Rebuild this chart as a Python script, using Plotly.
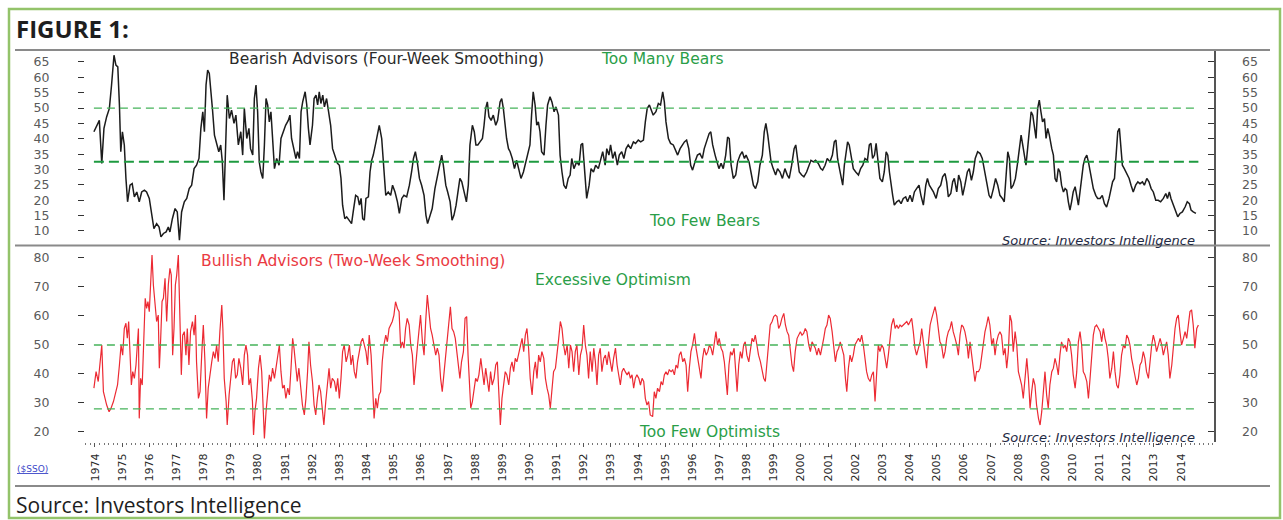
import plotly.graph_objects as go

# ---------------- data ----------------
bear_year = [
1973.96,1974.06,1974.16,1974.25,1974.33,1974.43,1974.53,1974.61,1974.70,1974.77,1974.84,1974.90,1974.95,
1975.01,1975.08,1975.14,1975.20,1975.29,1975.37,1975.45,1975.54,1975.63,1975.72,1975.82,1975.90,
1976.00,1976.09,1976.17,1976.27,1976.36,1976.43,1976.52,1976.62,1976.70,1976.76,1976.85,1976.95,
1977.03,1977.11,1977.19,1977.29,1977.38,1977.47,1977.56,1977.65,1977.74,1977.83,1977.90,1977.97,
1978.03,1978.09,1978.15,1978.21,1978.27,1978.33,1978.40,1978.48,1978.56,1978.63,1978.69,1978.75,1978.81,1978.87,1978.95,
1979.03,1979.12,1979.19,1979.28,1979.37,1979.44,1979.50,1979.59,1979.67,1979.73,1979.81,1979.87,1979.93,1979.99,
1980.05,1980.11,1980.18,1980.24,1980.30,1980.36,1980.42,1980.48,1980.54,1980.61,1980.69,1980.78,1980.85,1980.94,
1981.02,1981.12,1981.18,1981.24,1981.33,1981.40,1981.46,1981.53,1981.59,1981.65,1981.74,1981.80,1981.86,1981.92,
1982.01,1982.07,1982.14,1982.20,1982.26,1982.32,1982.39,1982.45,1982.53,1982.61,1982.68,1982.75,1982.84,1982.93,
1983.00,1983.06,1983.12,1983.20,1983.27,1983.36,1983.45,1983.51,1983.60,1983.68,1983.74,1983.80,1983.86,1983.92,1983.98,
1984.07,1984.13,1984.19,1984.25,1984.35,1984.47,1984.56,1984.64,1984.71,1984.80,1984.89,1984.96,
1985.05,1985.14,1985.21,1985.30,1985.38,1985.48,1985.58,1985.66,1985.73,1985.80,1985.87,1985.95,
1986.03,1986.12,1986.19,1986.25,1986.34,1986.42,1986.52,1986.62,1986.71,1986.77,1986.83,1986.92,1986.99,
1987.08,1987.15,1987.22,1987.30,1987.36,1987.44,1987.51,1987.59,1987.68,1987.75,1987.81,1987.90,1987.97,
1988.03,1988.10,1988.18,1988.27,1988.33,1988.39,1988.45,1988.51,1988.59,1988.67,1988.76,1988.83,1988.92,1988.98,
1989.04,1989.10,1989.16,1989.23,1989.29,1989.37,1989.45,1989.53,1989.62,1989.69,1989.78,1989.86,1989.94,
1990.02,1990.08,1990.14,1990.21,1990.27,1990.33,1990.39,1990.45,1990.54,1990.61,1990.67,1990.76,1990.83,1990.91,1990.98,
1991.07,1991.13,1991.20,1991.27,1991.35,1991.43,1991.50,1991.56,1991.64,1991.74,1991.83,1991.90,1991.96,
1992.05,1992.11,1992.20,1992.27,1992.36,1992.44,1992.54,1992.63,1992.70,1992.79,1992.85,1992.93,1992.99,
1993.07,1993.15,1993.24,1993.31,1993.40,1993.48,1993.56,1993.64,1993.73,1993.83,1993.91,
1994.01,1994.10,1994.20,1994.27,1994.34,1994.42,1994.56,1994.66,1994.75,1994.83,1994.91,1994.97,
1995.03,1995.12,1995.20,1995.30,1995.39,1995.46,1995.55,1995.63,1995.71,1995.79,1995.87,1995.94,
1996.01,1996.10,1996.19,1996.28,1996.37,1996.44,1996.53,1996.62,1996.68,1996.75,1996.84,1996.90,1996.98,
1997.06,1997.14,1997.23,1997.30,1997.36,1997.43,1997.51,1997.60,1997.67,1997.76,1997.84,1997.92,1997.98,
1998.09,1998.16,1998.25,1998.33,1998.41,1998.49,1998.58,1998.65,1998.71,1998.78,1998.84,1998.90,1998.98,
1999.07,1999.14,1999.23,1999.32,1999.41,1999.50,1999.57,1999.66,1999.75,1999.81,1999.87,1999.94,
2000.03,2000.11,2000.21,2000.30,2000.37,2000.46,2000.54,2000.64,2000.73,2000.80,2000.89,2000.97,
2001.07,2001.16,2001.23,2001.29,2001.35,2001.42,2001.48,2001.54,2001.60,2001.66,2001.72,2001.78,2001.85,2001.93,
2002.02,2002.12,2002.20,2002.28,2002.36,2002.45,2002.52,2002.58,2002.64,2002.71,2002.77,2002.83,2002.91,
2003.00,2003.07,2003.14,2003.20,2003.26,2003.32,2003.38,2003.44,2003.53,2003.61,2003.69,2003.77,2003.86,2003.93,
2004.02,2004.10,2004.18,2004.26,2004.35,2004.42,2004.51,2004.60,2004.66,2004.73,2004.88,2004.98,
2005.06,2005.15,2005.22,2005.31,2005.37,2005.43,2005.52,2005.59,2005.65,2005.74,2005.81,2005.89,2005.96,
2006.04,2006.13,2006.20,2006.28,2006.35,2006.42,2006.51,2006.60,2006.68,2006.76,2006.84,2006.93,
2007.00,2007.09,2007.17,2007.25,2007.33,2007.42,2007.49,2007.55,2007.62,2007.68,2007.74,2007.82,2007.90,2007.97,
2008.05,2008.11,2008.17,2008.23,2008.29,2008.35,2008.41,2008.48,2008.54,2008.60,2008.66,2008.72,2008.78,2008.84,2008.90,2008.97,
2009.03,2009.09,2009.15,2009.24,2009.30,2009.36,2009.42,2009.48,2009.54,2009.60,2009.67,2009.73,2009.79,2009.85,2009.91,2009.97,
2010.03,2010.10,2010.16,2010.22,2010.28,2010.34,2010.40,2010.46,2010.53,2010.59,2010.65,2010.71,2010.77,2010.86,2010.93,
2011.02,2011.10,2011.18,2011.26,2011.35,2011.42,2011.48,2011.55,2011.61,2011.67,2011.73,2011.78,2011.84,2011.91,
2012.00,2012.09,2012.16,2012.24,2012.33,2012.41,2012.49,2012.58,2012.65,2012.74,2012.82,2012.90,2012.98,
2013.07,2013.16,2013.25,2013.35,2013.44,2013.50,2013.57,2013.63,2013.72,2013.80,2013.88,2013.96,
2014.05,2014.15,2014.23,2014.31,2014.37,2014.45,2014.55,
]
bear_pct = [
42.3,44.4,46,32,43.4,47.2,49.9,57.5,67.2,64,63.4,51,35.8,
42.3,38,27.1,19.5,24.9,25.4,21.1,22.7,19.5,22.7,23.3,22.7,
20.6,15.1,10.8,12.4,11.3,8.1,9.2,9.7,11.3,9.7,14,17.3,
16.2,7,16.2,19.5,20.6,23.8,24.9,30.3,31.4,33.6,43.4,48.8,
42.3,57.5,62.4,61.3,56.4,49.3,41.2,38,35.8,38,32.5,20,34.7,54.2,46.6,
49.3,45,47.7,38,42.3,34.7,49.9,40.1,43.4,36.8,34.7,53.1,57.5,48.8,
32.5,29.2,27.1,38,53.1,51,45.5,48.8,38,30.3,33.6,31.4,40.1,42.3,
44.4,46,47.7,40.1,35.8,33.6,35.8,33.6,48.8,52,55.3,51,43.4,38,
44.4,53.1,54.2,51,55.3,51.5,54.2,50.4,53.1,48.8,44.4,36.8,34.7,32,
31.4,27.1,18.4,14,14.6,13.5,12.4,16.2,21.6,21.1,18.4,20.6,14,13.5,20.6,
21.1,29.2,33,34.7,39,44.4,40.1,31.4,21.6,22.7,21.6,24.9,
22.7,19.5,15.7,20.6,21.6,21.1,24.9,29.2,33.6,35.8,32.5,27.1,
24.9,21.6,15.1,12.4,15.1,17.3,23.8,28.2,31.4,34.7,31.4,24.9,22.7,
19.5,13.5,15.1,18.4,22.7,27.1,26,22.7,19.5,24.9,38,44.4,42.3,
38,38,39,40.1,44.4,49.9,52,47.2,46,47.7,44.4,46,52,53.1,
49.9,44.4,40.1,36.8,35.8,33.6,30.3,33,29.2,27.1,29.2,32.5,34.7,
38,47.7,55.3,51,44.4,45.5,42.3,35.8,34.7,44.4,51,53.7,52,48.8,50.4,
47.7,34.7,29.2,24.9,23.8,27.1,28.2,33.6,30.3,32.5,31.4,38,38.5,
27.1,20.6,24.9,30.3,29.2,31.4,30.3,33.6,35.8,31.4,36.8,34.7,38,
33.6,35.8,31.4,34.7,35.8,33.6,36.8,38,36.8,39,38.5,
39.6,39,39.6,45.5,49.9,51,47.7,48.8,51.5,51,55.3,52,
45.5,40.1,38.5,38,35.8,34.7,36.8,38,39,39.6,36.8,31.4,
29.8,32.5,34.7,35.2,33.6,36.8,39,41.7,42.3,38,34.7,32.5,30.3,
32,30.3,34.7,40.6,40.1,31.4,27.1,28.2,32.5,34.7,35.8,33.6,34.7,
32.5,29.2,24.9,23.8,26,31.4,34.7,42.3,45,41.2,36.8,32.5,30.3,
28.2,30.3,29.2,27.1,30.3,28.2,27.1,31.4,36.8,38,33.6,29.2,
28.2,27.6,29.2,31.4,33,32.5,33,32,30.3,29.8,31.4,33.6,
32.5,34.7,39,39.6,33.6,30.3,27.1,24.9,31.4,34.7,39,38,33.6,30.3,
29.2,28.2,30.3,31.4,33.6,33,38,38.5,33.6,34.7,38.5,33.6,27.1,
26,29.2,35.8,34.7,29.2,24.9,21.6,18.4,19.5,20,18.9,20.6,21.1,19.5,
21.6,19.5,22.7,23.8,24.9,21.6,18.4,24.9,27.1,24.9,22.7,20.6,
23.8,24.9,27.6,28.7,26,21.1,22.2,26,27.1,22.7,28.2,26,21.6,
24.9,29.2,30.3,26.5,29.2,33.6,35.8,35.2,33.6,30.3,26,21.6,
20.6,23.8,27.1,24.9,21.6,20.6,19.5,27.1,35.8,33.6,23.8,24.9,27.1,31.4,
38,41.2,38,34.7,31.4,36.8,43.4,48.8,47.7,44.4,40.1,49.9,52.6,48.8,45.5,46.6,
40.1,43.4,41.2,36.8,34.7,27.1,26,30.3,29.2,24.9,22.7,23.8,23.3,19.5,16.8,19.5,
22.7,24.4,20.6,18.4,22.7,27.1,31.4,33.6,34.7,32.5,29.2,26,23.8,21.6,20.6,
20.6,21.6,18.9,17.8,20.6,23.8,26,27.1,36.8,42.3,43.4,38,31.4,30.3,
28.7,27.1,24.9,22.7,24.9,26,25.4,26,24.9,27.1,26,23.8,22.7,
20,20,19.5,20.6,22.2,20.6,22.7,20.6,18.4,16.2,14.6,15.7,
16.2,17.8,19.5,18.9,16.8,16.2,15.7,
]

bull_year = [
1973.96,1974.04,1974.12,1974.18,1974.25,1974.31,1974.37,1974.43,1974.52,1974.59,1974.68,1974.76,1974.83,1974.90,1974.96,
1975.02,1975.08,1975.14,1975.19,1975.24,1975.29,1975.34,1975.39,1975.45,1975.51,1975.56,1975.60,1975.63,1975.68,1975.74,1975.80,1975.85,1975.90,1975.95,
1976.00,1976.06,1976.10,1976.15,1976.21,1976.27,1976.33,1976.37,1976.42,1976.47,1976.52,1976.58,1976.64,1976.70,1976.76,1976.81,1976.86,1976.91,1976.96,
1977.01,1977.07,1977.13,1977.18,1977.23,1977.29,1977.35,1977.40,1977.46,1977.52,1977.59,1977.65,1977.70,1977.74,1977.81,1977.87,1977.93,1977.99,
1978.05,1978.11,1978.17,1978.24,1978.30,1978.36,1978.42,1978.48,1978.54,1978.60,1978.67,1978.71,1978.76,1978.83,1978.87,1978.94,
1979.00,1979.06,1979.12,1979.18,1979.24,1979.30,1979.37,1979.44,1979.50,1979.56,1979.62,1979.67,1979.73,1979.80,1979.84,1979.89,1979.95,
1980.02,1980.08,1980.14,1980.20,1980.24,1980.30,1980.36,1980.42,1980.48,1980.54,1980.61,1980.67,1980.73,1980.79,1980.85,1980.91,1980.97,
1981.03,1981.10,1981.16,1981.22,1981.28,1981.33,1981.39,1981.45,1981.51,1981.58,1981.64,1981.71,1981.77,1981.83,1981.88,1981.94,
1982.01,1982.07,1982.13,1982.19,1982.25,1982.31,1982.37,1982.43,1982.50,1982.56,1982.62,1982.68,1982.74,1982.82,1982.88,1982.94,
1983.00,1983.06,1983.12,1983.18,1983.25,1983.31,1983.37,1983.43,1983.49,1983.55,1983.61,1983.67,1983.74,1983.80,1983.86,1983.92,1983.98,
1984.04,1984.10,1984.17,1984.23,1984.28,1984.34,1984.40,1984.46,1984.52,1984.58,1984.64,1984.71,1984.77,1984.83,1984.89,1984.95,
1985.01,1985.07,1985.14,1985.20,1985.26,1985.32,1985.38,1985.44,1985.50,1985.57,1985.63,1985.69,1985.75,1985.81,1985.87,1985.93,1985.99,
1986.06,1986.12,1986.18,1986.24,1986.30,1986.36,1986.42,1986.49,1986.55,1986.61,1986.67,1986.73,1986.79,1986.86,1986.92,1986.98,
1987.04,1987.09,1987.15,1987.21,1987.27,1987.33,1987.40,1987.44,1987.50,1987.57,1987.63,1987.69,1987.74,1987.79,1987.84,1987.90,1987.96,
1988.02,1988.08,1988.14,1988.21,1988.27,1988.33,1988.39,1988.45,1988.51,1988.57,1988.63,1988.70,1988.76,1988.82,1988.88,1988.93,1988.99,
1989.05,1989.11,1989.17,1989.24,1989.30,1989.36,1989.42,1989.48,1989.54,1989.61,1989.67,1989.73,1989.79,1989.85,1989.91,1989.97,
1990.03,1990.10,1990.16,1990.22,1990.28,1990.34,1990.40,1990.46,1990.53,1990.59,1990.65,1990.71,1990.77,1990.83,1990.89,1990.96,
1991.02,1991.08,1991.14,1991.20,1991.26,1991.32,1991.39,1991.45,1991.51,1991.57,1991.63,1991.69,1991.75,1991.82,1991.88,1991.94,
1992.00,1992.06,1992.12,1992.18,1992.24,1992.31,1992.37,1992.43,1992.49,1992.55,1992.61,1992.67,1992.74,1992.80,1992.86,1992.92,1992.98,
1993.04,1993.10,1993.17,1993.23,1993.29,1993.35,1993.41,1993.47,1993.53,1993.60,1993.66,1993.72,1993.78,1993.84,1993.90,1993.96,
1994.03,1994.09,1994.15,1994.21,1994.27,1994.33,1994.39,1994.45,1994.54,1994.60,1994.66,1994.72,1994.79,1994.85,1994.91,1994.97,
1995.03,1995.09,1995.15,1995.22,1995.28,1995.34,1995.40,1995.46,1995.52,1995.58,1995.65,1995.71,1995.77,1995.83,1995.89,1995.95,
1996.01,1996.08,1996.14,1996.20,1996.26,1996.32,1996.38,1996.44,1996.51,1996.57,1996.63,1996.69,1996.75,1996.81,1996.87,1996.93,1996.99,
1997.06,1997.12,1997.18,1997.24,1997.29,1997.35,1997.41,1997.47,1997.54,1997.60,1997.65,1997.71,1997.77,1997.83,1997.89,1997.95,
1998.01,1998.08,1998.14,1998.20,1998.26,1998.32,1998.38,1998.44,1998.51,1998.57,1998.63,1998.69,1998.75,1998.81,1998.87,1998.94,
1999.00,1999.06,1999.12,1999.18,1999.24,1999.30,1999.37,1999.43,1999.49,1999.55,1999.61,1999.67,1999.73,1999.79,1999.86,1999.92,1999.98,
2000.04,2000.10,2000.16,2000.22,2000.29,2000.35,2000.41,2000.47,2000.53,2000.59,2000.65,2000.72,2000.78,2000.84,2000.90,2000.96,
2001.02,2001.08,2001.15,2001.21,2001.27,2001.33,2001.39,2001.45,2001.51,2001.58,2001.64,2001.69,2001.75,2001.81,2001.87,2001.93,2001.99,
2002.05,2002.12,2002.18,2002.24,2002.30,2002.36,2002.42,2002.48,2002.55,2002.61,2002.67,2002.73,2002.79,2002.85,2002.91,2002.98,
2003.04,2003.10,2003.16,2003.22,2003.28,2003.34,2003.41,2003.47,2003.53,2003.59,2003.65,2003.71,2003.77,2003.83,2003.90,2003.96,
2004.02,2004.08,2004.14,2004.20,2004.26,2004.33,2004.39,2004.45,2004.51,2004.57,2004.63,2004.69,2004.76,2004.82,2004.88,2004.94,
2005.00,2005.06,2005.12,2005.18,2005.25,2005.31,2005.37,2005.43,2005.49,2005.55,2005.61,2005.68,2005.74,2005.80,2005.86,2005.92,2005.98,
2006.04,2006.11,2006.17,2006.23,2006.29,2006.35,2006.41,2006.47,2006.54,2006.60,2006.66,2006.72,2006.78,2006.84,2006.90,2006.96,
2007.03,2007.09,2007.15,2007.21,2007.27,2007.33,2007.39,2007.46,2007.52,2007.58,2007.64,2007.70,2007.76,2007.82,2007.89,2007.95,
2008.01,2008.07,2008.13,2008.19,2008.25,2008.32,2008.38,2008.44,2008.50,2008.56,2008.62,2008.68,2008.75,2008.81,2008.87,2008.93,2008.99,
2009.05,2009.11,2009.17,2009.24,2009.30,2009.36,2009.42,2009.48,2009.54,2009.60,2009.67,2009.73,2009.79,2009.85,2009.91,2009.97,
2010.03,2010.10,2010.16,2010.22,2010.28,2010.34,2010.40,2010.46,2010.53,2010.59,2010.65,2010.71,2010.77,2010.83,2010.89,2010.96,
2011.02,2011.08,2011.14,2011.20,2011.26,2011.32,2011.38,2011.45,2011.51,2011.57,2011.63,2011.69,2011.75,2011.81,2011.88,2011.94,
2012.00,2012.06,2012.12,2012.18,2012.24,2012.30,2012.37,2012.43,2012.49,2012.55,2012.61,2012.67,2012.73,2012.80,2012.86,2012.92,2012.98,
2013.04,2013.10,2013.16,2013.23,2013.29,2013.35,2013.41,2013.47,2013.53,2013.59,2013.66,2013.72,2013.78,2013.84,2013.90,2013.96,
2014.02,2014.09,2014.15,2014.21,2014.27,2014.33,2014.39,2014.45,2014.51,2014.58,2014.64,
]
bull_pct = [
35.1,40.8,37.4,43.1,50,33.9,31.6,29.3,27,28.2,30.5,33.9,36.2,43.1,50,
46.5,55.7,57.5,52.3,58.1,46.5,36.2,40.8,38.5,43.1,52.3,55.7,24.7,38.5,36.2,50,66.1,62.6,65,
61.5,73,81,70.7,65,58.1,60.3,42,52.3,65,66.1,73,58.1,70.7,76.4,74.1,46.5,55.7,70.7,
74.1,81,62.6,39.7,53.4,54.6,46.5,55.7,43.1,54.6,58.1,53.4,60.3,44.2,31.6,33.9,46.5,56.9,
44.2,24.7,35.1,40.8,44.2,47.7,45.4,50,44.2,54.6,63.8,55.7,38.5,30.5,22.4,32.8,
38.5,44.2,45.4,38.5,39.7,45.4,42,36.2,46.5,50,46.5,36.2,38.5,30.5,19,27,31.6,
42,46.5,40.8,27,17.8,27,35.1,39.7,37.4,42,38.5,42,45.4,50,40.8,35.1,36.2,
31.6,35.1,32.8,42,52.3,48.9,42,37.4,42,33.9,29.3,25.9,31.6,40.8,51.1,43.1,
37.4,29.3,25.9,31.6,36.2,33.9,28.2,22.4,30.5,36.2,42,35.1,38.5,37.4,33.9,38.5,
31.6,38.5,47.7,50,44.2,46.5,50,43.1,46.5,40.8,38.5,44.2,47.7,51.1,52.3,50,47.7,
43.1,53.4,46.5,36.2,24.7,31.6,28.2,32.8,33.9,44.2,50,53.4,51.1,55.7,56.9,58.1,
60.3,64.9,62.6,61.5,48.9,51.1,48.9,55.7,59.2,56.9,50,46.5,36.2,44.2,48.9,54.6,60.3,
51.1,46.5,58.1,67.2,61.5,55.7,53.4,50,46.5,48.9,46.5,38.5,33.9,40.8,46.5,52.3,
58.1,63.2,55.7,54.6,52.3,47.7,43.1,38.5,44.2,47.7,59.2,59.8,46.5,36.2,28.2,30.5,35.1,
38.5,37.4,39.7,45.4,40.8,36.2,42,38.5,33.9,40.8,36.2,38.5,43.1,44.2,32.8,22.4,31.6,
36.2,40.8,39.7,36.2,42,44.2,40.8,45.4,44.2,47.7,50,52.3,47.7,53.4,55.7,48.9,
38.5,32.8,40.8,44.2,38.5,46.5,44.2,47.7,45.4,38.5,35.1,32.8,28.2,36.2,40.8,42,
46.5,52.3,58.1,55.7,50,46.5,50,42,50,47.7,40.8,47.7,50,39.7,46.5,48.9,
56.9,50,46.5,38.5,47.7,40.8,48.9,44.2,36.2,46.5,48.9,40.8,45.4,46.5,43.1,47.7,44.2,
40.8,45.4,48.9,43.1,39.7,36.2,40.8,42,40.8,39.7,40.8,38.5,39.7,35.1,38.5,39.7,
38.5,36.2,38.5,37.4,31.6,29.3,30.5,25.9,25.3,33.9,31.6,35.1,33.9,37.4,36.2,39.7,
40.8,39.7,41.4,40.8,41.4,39.7,43.1,42,46.5,47.7,44.2,45.4,43.1,33.9,42,47.7,
50,54,48.9,45.4,43.1,38.5,45.4,48.9,46.5,47.7,50,48.9,46.5,51.1,54.6,50,52.3,
48.9,47.7,44.2,38.5,32.8,43.1,47.7,46.5,48.9,40.8,33.9,43.1,47.7,45.4,50,51.1,
46.5,44.2,47.7,52.3,51.1,53.4,50,46.5,44.2,40.8,38.5,37.4,44.2,51.1,56.9,58.1,
59.8,60.3,59.8,55.7,56.9,59.2,60.9,56.9,54.6,53.4,47.7,43.1,40.8,47.7,52.3,53.4,54.6,
53.4,54,55.7,54.6,50,47.7,51.1,50,48.9,46.5,48.9,46.5,48.9,52.3,55.7,56.9,
60.3,59.2,54.6,48.9,44.2,47.7,48.9,51.1,48.9,46.5,38.5,33.9,42,46.5,44.2,46.5,50,
51.1,52.3,51.1,53.4,50,44.2,40.8,38.5,37.4,39.7,40.8,30.5,40.8,50,47.7,50,
48.9,45.4,42,46.5,52.3,56.9,59.2,55.7,56.9,55.7,56.9,56.3,56.9,57.5,58.1,56.9,
58.1,59.2,54.6,48.9,46.5,48.9,51.1,55.7,51.1,46.5,42,50,56.9,59.2,61.5,63.2,
60.3,54.6,51.1,50,45.4,47.7,52.3,54.6,55.7,58.1,54.6,52.3,50,46.5,53.4,56.9,56.3,
54.6,51.1,45.4,51.1,46.5,42,37.4,40.8,40.8,42,46.5,50,54.6,56.9,59.8,56.9,
50,52.3,46.5,51.1,53.4,54.6,53.4,46.5,48.9,42,47.7,60.3,58.1,47.7,54.6,50,
40.8,38.5,36.2,31.6,38.5,45.4,38.5,28.2,33.9,38.5,36.2,29.3,24.7,22.4,27,33.9,40.8,
32.8,28.2,36.2,40.8,42,45.4,43.1,39.7,46.5,51.1,48.9,50,47.7,52.3,51.1,46.5,
39.7,35.1,40.8,51.1,54.6,50,40.8,39.7,37.4,31.6,38.5,46.5,53.4,56.3,56.9,55.7,
54.6,51.1,55.7,52.3,50,45.4,38.5,42,47.7,40.8,36.2,35.1,39.7,46.5,50,48.9,
53.4,52.3,50,45.4,42,39.7,36.2,38.5,43.1,44.2,47.7,45.4,40.8,38.5,45.4,50,53.4,
51.1,47.7,50,52.3,50,46.5,48.9,51.1,46.5,38.5,43.1,50,55.7,59.2,60.3,54.6,
50,52.3,54.6,52.3,56.9,61.5,62.1,56.9,48.9,55.7,56.9,
]

year_ticks = list(range(1974, 2015))
bear_ticks = [65, 60, 55, 50, 45, 40, 35, 30, 25, 20, 15, 10]
bull_ticks = [80, 70, 60, 50, 40, 30, 20]
bear_high, bear_low = 50, 32.5      # "Too Many Bears" / "Too Few Bears"
bull_high, bull_low = 50, 28        # "Excessive Optimism" / "Too Few Optimists"

# ---------------- figure ----------------
W, H = 1283, 520
def px(x): return x / W
def py(y): return 1 - y / H

XR = [1973.632, 2015.215]
TOP_DOM = [py(245), py(50)]
BOT_DOM = [py(442), py(245)]
TOP_R = [5.44, 68.9]
BOT_R = [16.55, 84.48]

fig = go.Figure()
fig.add_trace(go.Scatter(x=bear_year, y=bear_pct, mode="lines", xaxis="x", yaxis="y",
                         line=dict(color="#1c1c1c", width=1.5), hoverinfo="skip", showlegend=False))
fig.add_trace(go.Scatter(x=bull_year, y=bull_pct, mode="lines", xaxis="x2", yaxis="y2",
                         line=dict(color="#ec2a33", width=1.2), hoverinfo="skip", showlegend=False))
# invisible traces so the right-hand mirror axes get drawn
fig.add_trace(go.Scatter(x=[bear_year[0]], y=[bear_pct[0]], mode="markers", xaxis="x", yaxis="y3",
                         marker=dict(opacity=0), hoverinfo="skip", showlegend=False))
fig.add_trace(go.Scatter(x=[bull_year[0]], y=[bull_pct[0]], mode="markers", xaxis="x2", yaxis="y4",
                         marker=dict(opacity=0), hoverinfo="skip", showlegend=False))

tickfont = dict(family="DejaVu Sans", size=12.5, color="#5a5a5a")
common_y = dict(showgrid=False, zeroline=False, tickfont=tickfont, fixedrange=True)

fig.update_layout(
    width=W, height=H, autosize=False,
    margin=dict(l=0, r=0, t=0, b=0, pad=0),
    paper_bgcolor="white", plot_bgcolor="rgba(0,0,0,0)",
    xaxis=dict(domain=[px(85), px(1214)], range=XR, anchor="y", showticklabels=False,
               showgrid=False, zeroline=False, showline=False, ticks=""),
    xaxis2=dict(domain=[px(85), px(1214)], range=XR, anchor="y2", showgrid=False, zeroline=False,
                showline=False, tickvals=year_ticks, ticktext=[str(v) for v in year_ticks],
                tickangle=-90, ticks="outside", ticklen=4, tickcolor="#555", tickwidth=1,
                minor=dict(dtick=1/6, ticks="outside", ticklen=2, tickcolor="#777", tick0=1974),
                tickfont=dict(family="DejaVu Sans", size=11, color="#2a2a2a"), ticklabelstandoff=2),
    yaxis=dict(domain=TOP_DOM, range=TOP_R, anchor="x", tickvals=bear_ticks, ticks="outside",
               ticklen=6, tickcolor="#333", showline=False, ticklabelstandoff=26, **common_y),
    yaxis3=dict(domain=TOP_DOM, range=TOP_R, anchor="x", overlaying="y", side="right",
                tickvals=bear_ticks, ticks="inside", ticklen=6, tickcolor="#333",
                showline=True, linecolor="#555", linewidth=1.5, ticklabelstandoff=24, **common_y),
    yaxis2=dict(domain=BOT_DOM, range=BOT_R, anchor="x2", tickvals=bull_ticks, ticks="outside",
                ticklen=6, tickcolor="#333", showline=False, ticklabelstandoff=26, **common_y),
    yaxis4=dict(domain=BOT_DOM, range=BOT_R, anchor="x2", overlaying="y2", side="right",
                tickvals=bull_ticks, ticks="inside", ticklen=6, tickcolor="#333",
                showline=True, linecolor="#555", linewidth=1.5, ticklabelstandoff=24, **common_y),
)

x_first, x_last = min(bear_year[0], bull_year[0]), max(bear_year[-1], bull_year[-1])
shapes = [
    # outer green frame
    dict(type="rect", xref="paper", yref="paper", x0=px(9), x1=px(1280), y0=py(518), y1=py(9),
         line=dict(color="#93c36a", width=2.5), layer="below"),
    # gray rules
    dict(type="line", xref="paper", yref="paper", x0=px(15), x1=px(1270), y0=py(50), y1=py(50),
         line=dict(color="#8a8a8a", width=2)),
    dict(type="line", xref="paper", yref="paper", x0=px(15), x1=px(1270), y0=py(245.5), y1=py(245.5),
         line=dict(color="#8a8a8a", width=2)),
    dict(type="line", xref="paper", yref="paper", x0=px(15), x1=px(1270), y0=py(486), y1=py(486),
         line=dict(color="#8a8a8a", width=2)),
    # threshold lines
    dict(type="line", xref="x", yref="y", x0=x_first, x1=x_last, y0=bear_high, y1=bear_high,
         line=dict(color="#45b35a", width=1.3, dash="8px,5px")),
    dict(type="line", xref="x", yref="y", x0=x_first, x1=x_last, y0=bear_low, y1=bear_low,
         line=dict(color="#1e9a40", width=2, dash="10px,5px")),
    dict(type="line", xref="x2", yref="y2", x0=x_first, x1=x_last, y0=bull_high, y1=bull_high,
         line=dict(color="#45b35a", width=1.3, dash="8px,5px")),
    dict(type="line", xref="x2", yref="y2", x0=x_first, x1=x_last, y0=bull_low, y1=bull_low,
         line=dict(color="#45b35a", width=1.3, dash="8px,5px")),
]
fig.update_layout(shapes=shapes)

def ann(text, x, y, size, color, family="DejaVu Sans", xanchor="center", **kw):
    return dict(text=text, x=px(x), y=py(y), xref="paper", yref="paper", showarrow=False,
                xanchor=xanchor, yanchor="middle", font=dict(family=family, size=size, color=color), **kw)

annotations = [
    ann("<b>FIGURE 1:</b>", 14, 28, 24, "#1e1e1e", family="Open Sans", xanchor="left"),
    ann("Bearish Advisors (Four-Week Smoothing)", 387, 59, 15.5, "#2a2a2a"),
    ann("Too Many Bears", 663, 59, 15.5, "#2a9e48"),
    ann("Too Few Bears", 704, 221, 15.5, "#2a9e48"),
    ann("<i>Source: Investors Intelligence</i>", 1197, 240, 13, "#1f2a44", xanchor="right"),
    ann("Bullish Advisors (Two-Week Smoothing)", 353, 261, 15.5, "#ea3a42"),
    ann("Excessive Optimism", 613, 280, 15.5, "#2a9e48"),
    ann("Too Few Optimists", 709, 432, 15.5, "#2a9e48"),
    ann("<i>Source: Investors Intelligence</i>", 1197, 437, 13, "#1f2a44", xanchor="right"),
    ann("<u>($SSO)</u>", 15, 469, 9, "#3a46c8", xanchor="left"),
    ann("Source: Investors Intelligence", 14, 505, 21, "#1e1e1e", family="Open Sans", xanchor="left"),
]
fig.update_layout(annotations=annotations)

fig.write_html("out.html", include_plotlyjs=True,
               config={"displayModeBar": False, "staticPlot": True},
               post_script="document.body.style.margin='0';document.body.style.overflow='hidden';")
